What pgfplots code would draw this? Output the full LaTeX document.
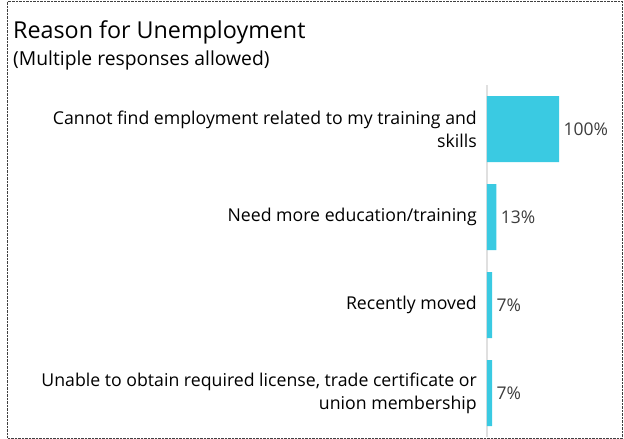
\documentclass[border=0pt]{standalone}
\usepackage{fontspec}
\setmainfont{Open Sans}
\usepackage{pgfplots}
\pgfplotsset{compat=1.18}
\definecolor{barcyan}{RGB}{58,202,226}
\definecolor{valgray}{RGB}{60,60,60}
\begin{document}
\begin{tikzpicture}[x=1pt,y=1pt]
\useasboundingbox (0,0) rectangle (624,-439);
\draw[densely dotted, black!75] (7.5,-1.5) rectangle (622.5,-438);
\node[anchor=base west, inner sep=0pt, font=\fontsize{23.3}{26}\selectfont] at (13,-38) {Reason for Unemployment};
\node[anchor=base west, inner sep=0pt, font=\fontsize{19.3}{22}\selectfont] at (13,-65) {(Multiple responses allowed)};
\begin{axis}[
  at={(487pt,-437pt)}, anchor=south west,
  scale only axis, width=72pt, height=352pt,
  xbar, bar width=0.75,
  xmin=0, xmax=100,
  ymin=-0.5, ymax=3.5, y dir=reverse,
  ytick={0,1,2,3},
  yticklabels={
    {Cannot find employment related to my training and\\skills},
    {Need more education/training},
    {Recently moved},
    {Unable to obtain required license, trade certificate or\\union membership}
  },
  yticklabel style={align=right, inner sep=0pt, xshift=-10pt,
    font=\fontsize{17.7}{23}\selectfont},
  major tick length=0pt,
  hide x axis, axis y line*=left,
  y axis line style={black!12, line width=1.2pt},
  clip=false,
  nodes near coords={\pgfmathprintnumber{\pgfplotspointmeta}\%},
  nodes near coords align={horizontal},
  every node near coord/.append style={font=\fontsize{17.5}{20}\selectfont, text=valgray, xshift=1pt},
  /pgf/number format/assume math mode=true,
]
\addplot[fill=barcyan, draw=none] coordinates {(100,0) (13,1) (7,2) (7,3)};
\end{axis}
\end{tikzpicture}
\end{document}
